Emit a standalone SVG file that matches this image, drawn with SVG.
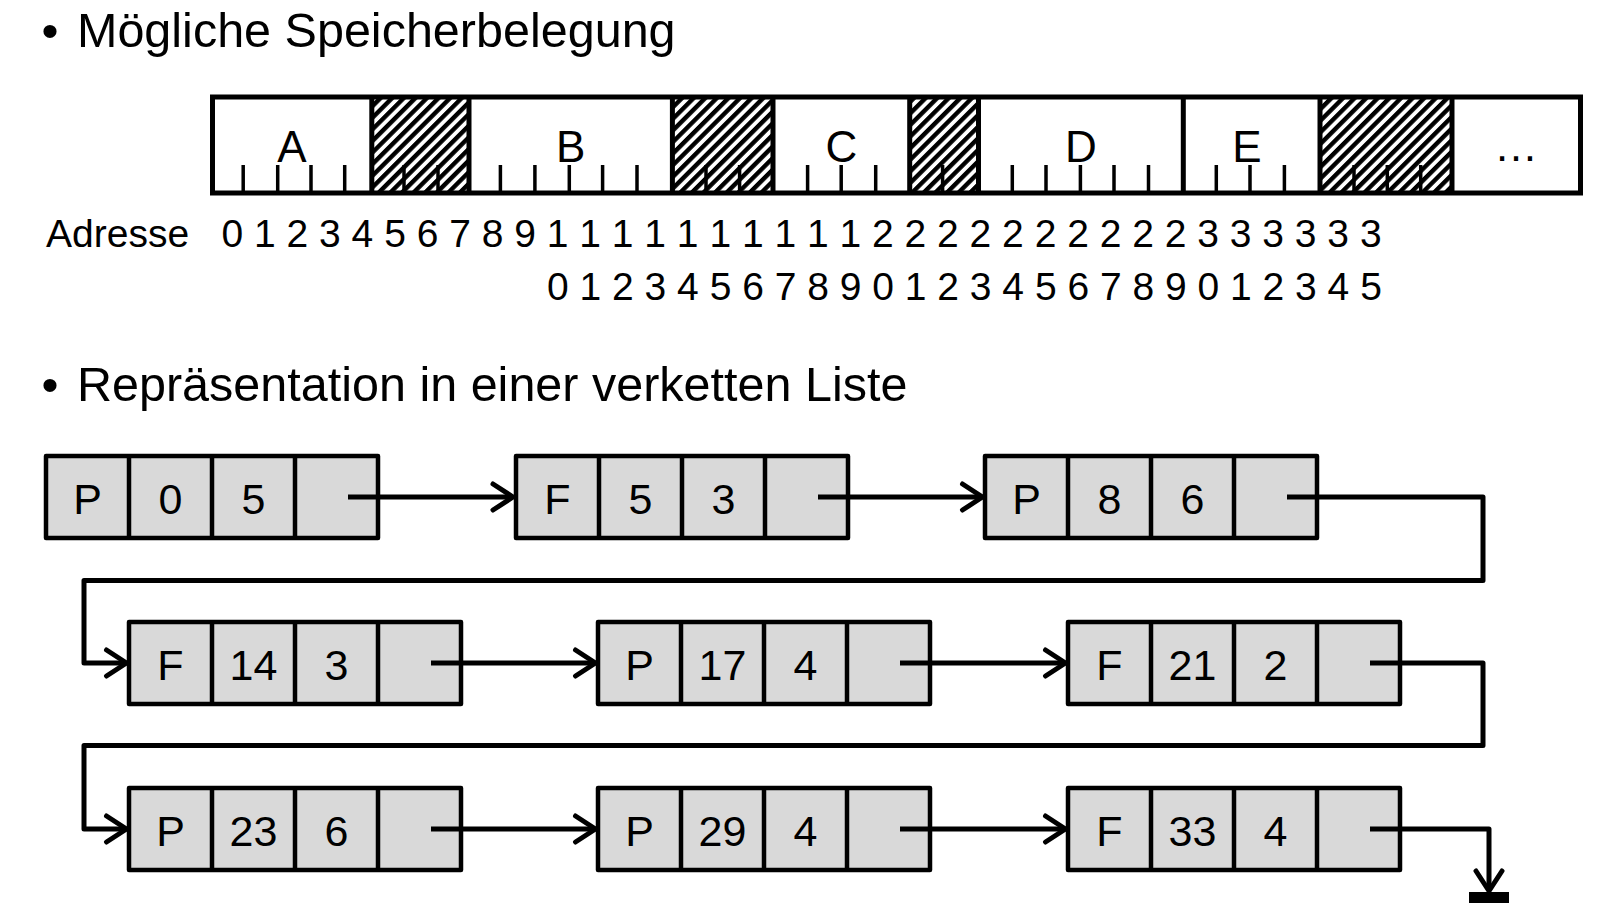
<svg xmlns="http://www.w3.org/2000/svg" width="1607" height="920" viewBox="0 0 1607 920">
<defs>
<style>
text{font-family:"Liberation Sans",Arial,sans-serif;fill:#000}
.title{font-size:48.5px}
.addr{font-size:39px}
.seg{font-size:44px;text-anchor:middle}
.cell{fill:#d9d9d9;stroke:#000;stroke-width:4.5;stroke-linejoin:round}
.div{stroke:#000;stroke-width:4.5}
.val{font-size:43px;text-anchor:middle}
.barbg{fill:#fff}
.barframe{fill:none;stroke:#000;stroke-width:5}
.sep{stroke:#000;stroke-width:5}
.tick{stroke:#000;stroke-width:3.5}
.hatch{fill:url(#hatch)}
.conn{fill:none;stroke:#000;stroke-width:5;stroke-linejoin:round}
</style>
<pattern id="hatch" patternUnits="userSpaceOnUse" width="8.2" height="8.2" patternTransform="rotate(45)">
<rect width="8.2" height="8.2" fill="#fff"/>
<rect width="4.4" height="8.2" fill="#000"/>
</pattern>
<marker id="arrow" markerUnits="userSpaceOnUse" viewBox="-25 -16 30 32" refX="0" refY="0" markerWidth="30" markerHeight="32" orient="auto">
<path d="M -20 -13 L 0 0 L -20 13" fill="none" stroke="#000" stroke-width="5" stroke-linejoin="round" stroke-linecap="round"/>
</marker>
</defs>

<g id="titles">
<text class="title" x="41.5" y="47">•</text>
<text class="title" x="77" y="47">Mögliche Speicherbelegung</text>
<text class="title" x="41.5" y="401">•</text>
<text class="title" x="77" y="401">Repräsentation in einer verketten Liste</text>
</g>

<g id="memory">
<rect class="barbg" x="212.5" y="97" width="1368" height="96"/>
<rect class="hatch" x="371.8" y="97" width="97.2" height="96"/>
<rect class="hatch" x="672.4" y="97" width="100.6" height="96"/>
<rect class="hatch" x="909.7" y="97" width="68.8" height="96"/>
<rect class="hatch" x="1320" y="97" width="132" height="96"/>
<g class="sep">
<line x1="371.8" y1="97" x2="371.8" y2="193"/>
<line x1="469" y1="97" x2="469" y2="193"/>
<line x1="672.4" y1="97" x2="672.4" y2="193"/>
<line x1="773" y1="97" x2="773" y2="193"/>
<line x1="909.7" y1="97" x2="909.7" y2="193"/>
<line x1="978.5" y1="97" x2="978.5" y2="193"/>
<line x1="1183.3" y1="97" x2="1183.3" y2="193"/>
<line x1="1320" y1="97" x2="1320" y2="193"/>
<line x1="1452" y1="97" x2="1452" y2="193"/>
</g>
<g class="tick">
<line x1="243.2" y1="165" x2="243.2" y2="193"/>
<line x1="277.7" y1="165" x2="277.7" y2="193"/>
<line x1="311" y1="165" x2="311" y2="193"/>
<line x1="344.7" y1="165" x2="344.7" y2="193"/>
<line x1="404" y1="165" x2="404" y2="193"/>
<line x1="438" y1="165" x2="438" y2="193"/>
<line x1="500.4" y1="165" x2="500.4" y2="193"/>
<line x1="534.9" y1="165" x2="534.9" y2="193"/>
<line x1="569.3" y1="165" x2="569.3" y2="193"/>
<line x1="602.6" y1="165" x2="602.6" y2="193"/>
<line x1="637" y1="165" x2="637" y2="193"/>
<line x1="706" y1="165" x2="706" y2="193"/>
<line x1="739.6" y1="165" x2="739.6" y2="193"/>
<line x1="807.6" y1="165" x2="807.6" y2="193"/>
<line x1="841.2" y1="165" x2="841.2" y2="193"/>
<line x1="875.7" y1="165" x2="875.7" y2="193"/>
<line x1="942.6" y1="165" x2="942.6" y2="193"/>
<line x1="1012.3" y1="165" x2="1012.3" y2="193"/>
<line x1="1046" y1="165" x2="1046" y2="193"/>
<line x1="1080.4" y1="165" x2="1080.4" y2="193"/>
<line x1="1114" y1="165" x2="1114" y2="193"/>
<line x1="1148.5" y1="165" x2="1148.5" y2="193"/>
<line x1="1216.3" y1="165" x2="1216.3" y2="193"/>
<line x1="1250" y1="165" x2="1250" y2="193"/>
<line x1="1284.4" y1="165" x2="1284.4" y2="193"/>
<line x1="1354" y1="165" x2="1354" y2="193"/>
<line x1="1387.3" y1="165" x2="1387.3" y2="193"/>
<line x1="1420.7" y1="165" x2="1420.7" y2="193"/>
</g>
<rect class="barframe" x="212.5" y="97" width="1368" height="96"/>
<text class="seg" x="292" y="162">A</text>
<text class="seg" x="570.7" y="162">B</text>
<text class="seg" x="841.4" y="162">C</text>
<text class="seg" x="1081" y="162">D</text>
<text class="seg" x="1247" y="162">E</text>
<text class="seg" x="1516" y="161">…</text>
</g>

<g id="addresses">
<text class="addr" x="46" y="247">Adresse</text>
<text class="addr" x="221.5" y="247" xml:space="preserve">0 1 2 3 4 5 6 7 8 9 1 1 1 1 1 1 1 1 1 1 2 2 2 2 2 2 2 2 2 2 3 3 3 3 3 3</text>
<text class="addr" x="547" y="299.5" xml:space="preserve">0 1 2 3 4 5 6 7 8 9 0 1 2 3 4 5 6 7 8 9 0 1 2 3 4 5</text>
</g>

<g id="node-1">
<rect class="cell" x="46" y="456" width="332" height="82"/>
<line class="div" x1="129" y1="456" x2="129" y2="538"/><line class="div" x1="212" y1="456" x2="212" y2="538"/><line class="div" x1="295" y1="456" x2="295" y2="538"/>
<text class="val" x="87.5" y="514">P</text><text class="val" x="170.5" y="514">0</text><text class="val" x="253.5" y="514">5</text>
</g>
<g id="node-2">
<rect class="cell" x="516" y="456" width="332" height="82"/>
<line class="div" x1="599" y1="456" x2="599" y2="538"/><line class="div" x1="682" y1="456" x2="682" y2="538"/><line class="div" x1="765" y1="456" x2="765" y2="538"/>
<text class="val" x="557.5" y="514">F</text><text class="val" x="640.5" y="514">5</text><text class="val" x="723.5" y="514">3</text>
</g>
<g id="node-3">
<rect class="cell" x="985" y="456" width="332" height="82"/>
<line class="div" x1="1068" y1="456" x2="1068" y2="538"/><line class="div" x1="1151" y1="456" x2="1151" y2="538"/><line class="div" x1="1234" y1="456" x2="1234" y2="538"/>
<text class="val" x="1026.5" y="514">P</text><text class="val" x="1109.5" y="514">8</text><text class="val" x="1192.5" y="514">6</text>
</g>
<g id="node-4">
<rect class="cell" x="129" y="622" width="332" height="82"/>
<line class="div" x1="212" y1="622" x2="212" y2="704"/><line class="div" x1="295" y1="622" x2="295" y2="704"/><line class="div" x1="378" y1="622" x2="378" y2="704"/>
<text class="val" x="170.5" y="680">F</text><text class="val" x="253.5" y="680">14</text><text class="val" x="336.5" y="680">3</text>
</g>
<g id="node-5">
<rect class="cell" x="598" y="622" width="332" height="82"/>
<line class="div" x1="681" y1="622" x2="681" y2="704"/><line class="div" x1="764" y1="622" x2="764" y2="704"/><line class="div" x1="847" y1="622" x2="847" y2="704"/>
<text class="val" x="639.5" y="680">P</text><text class="val" x="722.5" y="680">17</text><text class="val" x="805.5" y="680">4</text>
</g>
<g id="node-6">
<rect class="cell" x="1068" y="622" width="332" height="82"/>
<line class="div" x1="1151" y1="622" x2="1151" y2="704"/><line class="div" x1="1234" y1="622" x2="1234" y2="704"/><line class="div" x1="1317" y1="622" x2="1317" y2="704"/>
<text class="val" x="1109.5" y="680">F</text><text class="val" x="1192.5" y="680">21</text><text class="val" x="1275.5" y="680">2</text>
</g>
<g id="node-7">
<rect class="cell" x="129" y="788" width="332" height="82"/>
<line class="div" x1="212" y1="788" x2="212" y2="870"/><line class="div" x1="295" y1="788" x2="295" y2="870"/><line class="div" x1="378" y1="788" x2="378" y2="870"/>
<text class="val" x="170.5" y="846">P</text><text class="val" x="253.5" y="846">23</text><text class="val" x="336.5" y="846">6</text>
</g>
<g id="node-8">
<rect class="cell" x="598" y="788" width="332" height="82"/>
<line class="div" x1="681" y1="788" x2="681" y2="870"/><line class="div" x1="764" y1="788" x2="764" y2="870"/><line class="div" x1="847" y1="788" x2="847" y2="870"/>
<text class="val" x="639.5" y="846">P</text><text class="val" x="722.5" y="846">29</text><text class="val" x="805.5" y="846">4</text>
</g>
<g id="node-9">
<rect class="cell" x="1068" y="788" width="332" height="82"/>
<line class="div" x1="1151" y1="788" x2="1151" y2="870"/><line class="div" x1="1234" y1="788" x2="1234" y2="870"/><line class="div" x1="1317" y1="788" x2="1317" y2="870"/>
<text class="val" x="1109.5" y="846">F</text><text class="val" x="1192.5" y="846">33</text><text class="val" x="1275.5" y="846">4</text>
</g>

<g id="connectors">
<path class="conn" marker-end="url(#arrow)" d="M 348 497 H 513"/>
<path class="conn" marker-end="url(#arrow)" d="M 818 497 H 982.5"/>
<path class="conn" marker-end="url(#arrow)" d="M 1287 497 H 1483 V 580.5 H 84 V 663 H 126.5"/>
<path class="conn" marker-end="url(#arrow)" d="M 431 663 H 595.5"/>
<path class="conn" marker-end="url(#arrow)" d="M 900 663 H 1065.5"/>
<path class="conn" marker-end="url(#arrow)" d="M 1370 663 H 1483 V 745.5 H 84 V 829 H 126.5"/>
<path class="conn" marker-end="url(#arrow)" d="M 431 829 H 595.5"/>
<path class="conn" marker-end="url(#arrow)" d="M 900 829 H 1065.5"/>
<path class="conn" marker-end="url(#arrow)" d="M 1370 829 H 1489 V 891"/>
<rect x="1469" y="892" width="40" height="11" fill="#000"/>
</g>
</svg>
